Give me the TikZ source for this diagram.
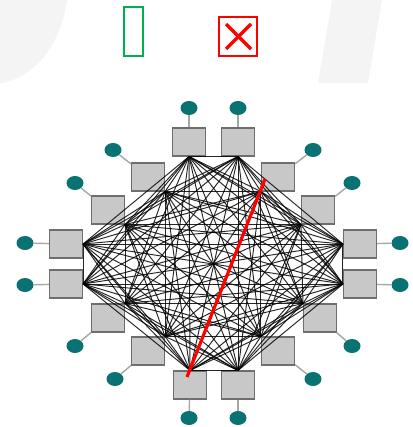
\documentclass[tikz,border=0pt]{standalone}
\usepackage{tikz}
\usetikzlibrary{calc,shapes.geometric}
\definecolor{swoosh}{HTML}{F4F4F4}
\definecolor{boxfill}{HTML}{C8C8C8}
\definecolor{boxline}{HTML}{6E6E6E}
\definecolor{hostcol}{HTML}{0A7272}
\definecolor{okgreen}{HTML}{00B050}
\definecolor{badred}{HTML}{FF0000}
\tikzset{
  router/.style={draw=boxline, fill=boxfill, line width=1.1pt,
    minimum width=33pt, minimum height=28pt, inner sep=0pt},
  host/.style={ellipse, fill=hostcol, minimum width=17pt, minimum height=14pt, inner sep=0pt},
  uplink/.style={draw=gray!70, line width=1.4pt},
  mesh/.style={draw=black, line width=0.95pt, opacity=0.85},
  cut/.style={draw=badred, line width=3.2pt}
}
\begin{document}
\begin{tikzpicture}[x=1pt, y=-1pt]
\useasboundingbox (0,0) rectangle (412,427);
% soft background band
\fill[swoosh] (0,0) -- (67,0) .. controls (62,40) and (38,76) .. (2,83) -- (0,83) -- cycle;
\fill[swoosh] (332,0) -- (382,0) -- (368,83) -- (318,83) -- cycle;

% markers above the network
\node[draw=okgreen, line width=2pt, minimum width=19pt, minimum height=49pt, inner sep=0pt] (ok) at (133,32) {};
\node[draw=badred, line width=2.7pt, minimum width=38pt, minimum height=39pt, inner sep=0pt] (bad) at (238,36.5) {};
\coordinate (x1) at (226,24);
\coordinate (x2) at (251,49);
\coordinate (x3) at (251,24);
\coordinate (x4) at (226,49);
\draw[badred, line width=3.2pt] (x1) -- (x2) (x3) -- (x4);

% routers, hosts and the anchor where each router meets the mesh
\foreach \n/\sx/\sy/\dx/\dy/\an in {
  1/189/142/189/108/south,
  2/238/142/238/108/south,
  3/278/177/313/150/south west,
  4/318/210/352/183/south west,
  5/360/244/400/243/west,
  6/360/284/400/285/west,
  7/320/318/352/346/north west,
  8/278/351/313/379/north west,
  9/238/385/238/418/north,
  10/190/385/189/418/north,
  11/148/351/115/379/north east,
  12/108/318/75/346/north east,
  13/66/284/25/285/east,
  14/66/244/25/243/east,
  15/108/210/75/183/south east,
  16/148/177/113/150/south east}{
  \node[host] (d\n) at (\dx,\dy) {};
  \node[router] (s\n) at (\sx,\sy) {};
  \draw[uplink] (d\n) -- (s\n);
  \coordinate (a\n) at (s\n.\an);
}

% full mesh between all routers
\foreach \i in {1,...,15}{
  \pgfmathtruncatemacro{\first}{\i+1}
  \foreach \j in {\first,...,16}{
    \draw[mesh] (a\i) -- (a\j);
  }
}

% failed link
\coordinate (r1) at (265,179);
\coordinate (r2) at (187,377);
\draw[cut] (r1) -- (r2);
\end{tikzpicture}
\end{document}
